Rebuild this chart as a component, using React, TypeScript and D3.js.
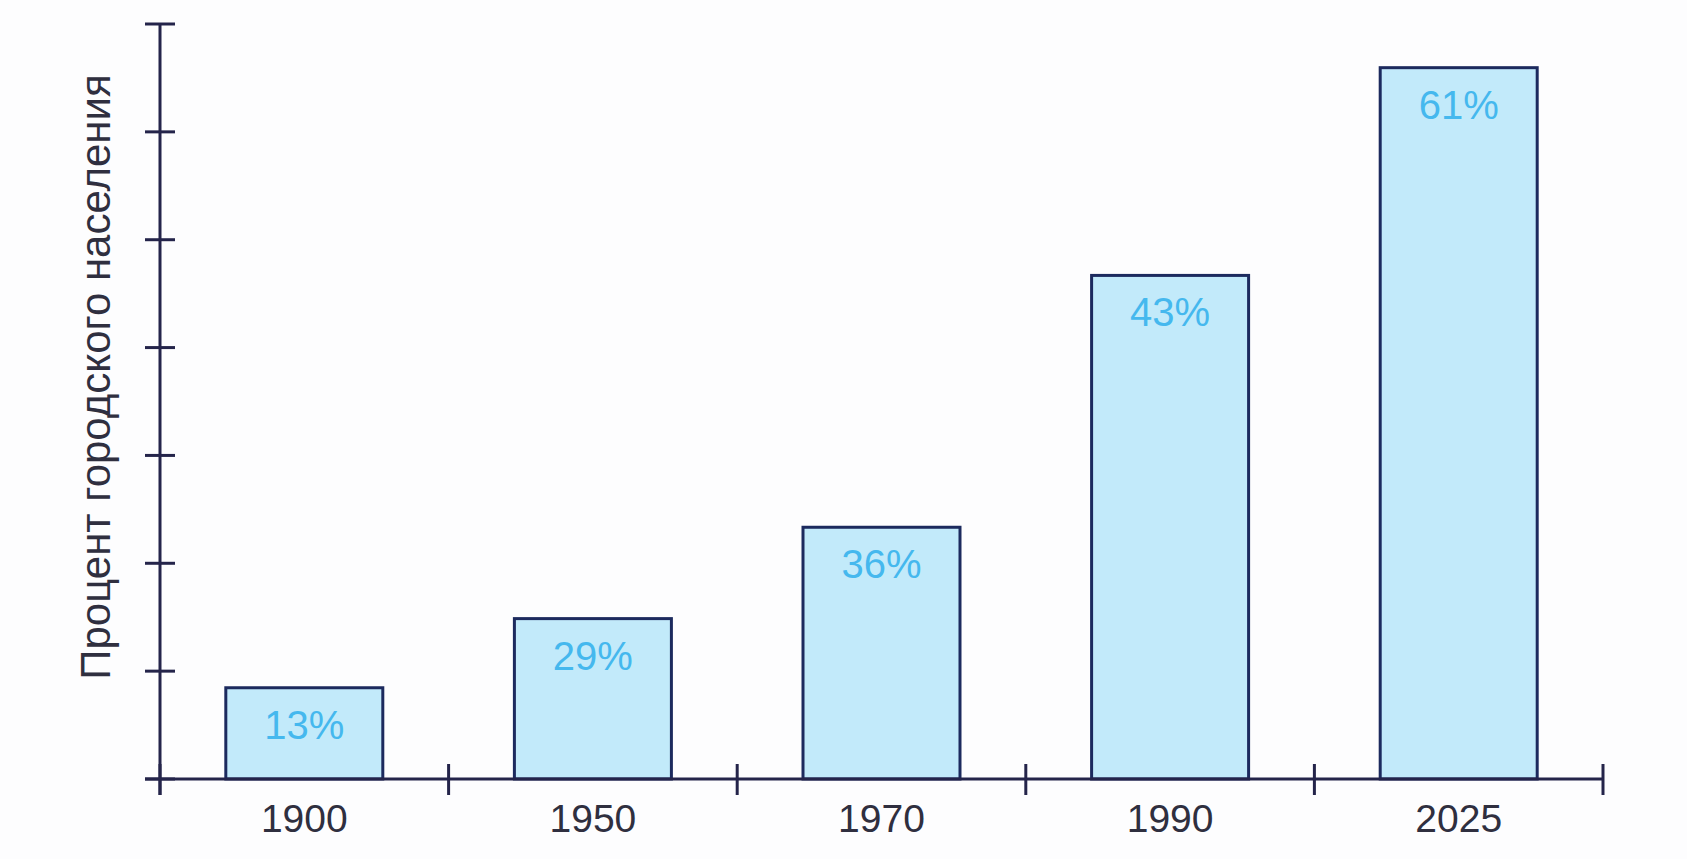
import React from "react";
import * as d3 from "d3";

const years = ["1900", "1950", "1970", "1990", "2025"];
const percentLabels = ["13%", "29%", "36%", "43%", "61%"];
// bar heights as drawn, in y-axis tick units (the picture is not drawn to scale)
const barHeights = [0.846, 1.487, 2.334, 4.669, 6.595];
const yTickCount = 7;
const yTitle = "Процент городского населения";

const W = 1687;
const H = 859;
const x0 = 160;
const x1 = 1603;
const yBase = 779;
const yTop = 24;

export default function App() {
  const x = d3
    .scaleBand<string>()
    .domain(years)
    .range([x0, x1])
    .paddingInner(0.456)
    .paddingOuter(0.228);
  const y = d3.scaleLinear().domain([0, yTickCount]).range([yBase, yTop]);
  const step = x.step();
  const xTicks = d3.range(years.length + 1).map((i) => x0 + i * step);
  const yTicks = d3.range(yTickCount + 1);
  const axisColor = "#24244a";
  const font = "'Liberation Sans', Arial, sans-serif";

  return (
    <svg
      width={W}
      height={H}
      style={{ position: "absolute", left: 0, top: 0, background: "#fdfdfe" }}
    >
      {/* bars */}
      {years.map((yr, i) => (
        <g key={yr}>
          <rect
            x={x(yr)}
            y={y(barHeights[i])}
            width={x.bandwidth()}
            height={yBase - y(barHeights[i])}
            fill="#c2eafa"
            stroke="#1c2a5e"
            strokeWidth={3}
          />
          <text
            x={(x(yr) as number) + x.bandwidth() / 2}
            y={y(barHeights[i]) + 51}
            textAnchor="middle"
            fontFamily={font}
            fontSize={40}
            fill="#45b8ee"
          >
            {percentLabels[i]}
          </text>
          <text
            x={(x(yr) as number) + x.bandwidth() / 2}
            y={832}
            textAnchor="middle"
            fontFamily={font}
            fontSize={39}
            fill="#2f2f3f"
          >
            {yr}
          </text>
        </g>
      ))}
      {/* x axis */}
      <line x1={145} x2={x1} y1={yBase} y2={yBase} stroke={axisColor} strokeWidth={3} />
      {xTicks.map((t, i) => (
        <line key={i} x1={t} x2={t} y1={yBase - 15} y2={yBase + 16} stroke={axisColor} strokeWidth={3} />
      ))}
      {/* y axis */}
      <line x1={x0} x2={x0} y1={yTop} y2={yBase + 16} stroke={axisColor} strokeWidth={3} />
      {yTicks.map((t) => (
        <line key={t} x1={x0 - 15} x2={x0 + 15} y1={y(t)} y2={y(t)} stroke={axisColor} strokeWidth={3} />
      ))}
      <text
        transform={`translate(110, 377) rotate(-90)`}
        textAnchor="middle"
        fontFamily={font}
        fontSize={42}
        fill="#2f2f3f"
      >
        {yTitle}
      </text>
    </svg>
  );
}
